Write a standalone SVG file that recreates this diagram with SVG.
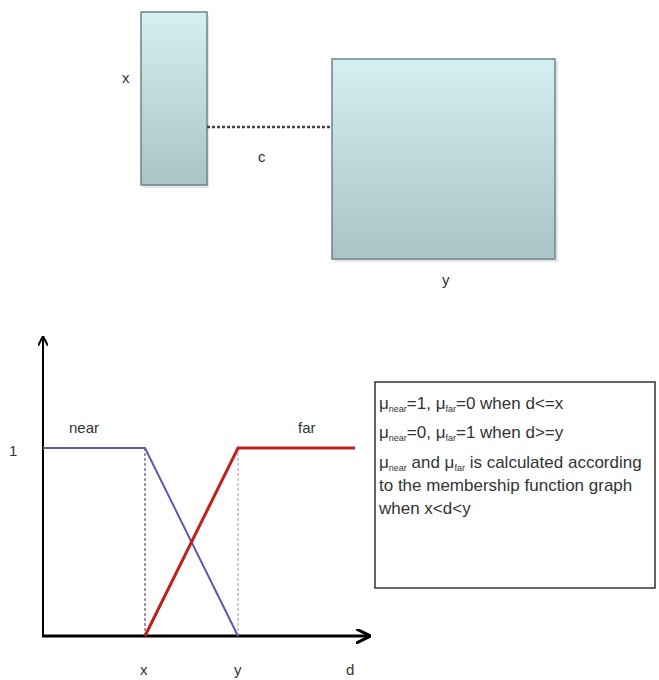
<svg xmlns="http://www.w3.org/2000/svg" width="659" height="680" viewBox="0 0 659 680">
<style>
  .lbl{font-family:"Liberation Sans",Arial,sans-serif;font-size:15px;fill:#333}
  .box{fill:url(#g);stroke:#6f8486;stroke-width:1.5}
  .txt{font-family:"Liberation Sans",Arial,sans-serif;font-size:17px;fill:#333}
  .sub{font-size:9px}
</style>
<defs>
  <linearGradient id="g" x1="0" y1="0" x2="0" y2="1">
    <stop offset="0" stop-color="#d3eff1"/>
    <stop offset="1" stop-color="#a8c4c7"/>
  </linearGradient>
  <marker id="ah" viewBox="0 0 10 10" refX="9" refY="5" markerWidth="5" markerHeight="5" orient="auto-start-reverse" markerUnits="strokeWidth">
    <path d="M0,0 L10,5 L0,10" fill="none" stroke="#000" stroke-width="2"/>
  </marker>
</defs>
<rect width="659" height="680" fill="#fff"/>
<g id="node-x">
  <rect x="143" y="15" width="66" height="173" fill="#ccc" opacity="0.5"/>
  <rect class="box" x="141" y="12" width="66" height="173"/>
  <text class="lbl" x="122" y="83">x</text>
</g>
<g id="node-y">
  <rect x="335" y="61" width="223" height="201" fill="#ccc" opacity="0.5"/>
  <rect class="box" x="332" y="59" width="223" height="200"/>
  <text class="lbl" x="442" y="285">y</text>
</g>
<g id="connectors">
  <line x1="207" y1="127" x2="332" y2="127" stroke="#444" stroke-width="2.5" stroke-dasharray="3,2"/>
  <text class="lbl" x="258" y="162">c</text>
</g>
<g id="graph">
  <line x1="43" y1="636" x2="43" y2="337" stroke="#000" stroke-width="2" marker-end="url(#ah)"/>
  <line x1="42" y1="636" x2="369" y2="636" stroke="#000" stroke-width="3" marker-end="url(#ah)"/>
  <line x1="145" y1="448" x2="145" y2="636" stroke="#333" stroke-width="1" stroke-dasharray="3,2"/>
  <line x1="238" y1="448" x2="238" y2="636" stroke="#999" stroke-width="1" stroke-dasharray="3,2"/>
  <polyline points="43,448 145,448 238,636" fill="none" stroke="#5b5baa" stroke-width="2"/>
  <polyline points="145,636 238,448 355,448" fill="none" stroke="#c0201a" stroke-width="3"/>
  <text class="lbl" x="69" y="433">near</text>
  <text class="lbl" x="298" y="433">far</text>
  <text class="lbl" x="9" y="456">1</text>
  <text class="lbl" x="140" y="675">x</text>
  <text class="lbl" x="234" y="675">y</text>
  <text class="lbl" x="346" y="675">d</text>
</g>
<g id="legend">
  <rect x="375" y="382" width="280" height="206" fill="#fff" stroke="#333" stroke-width="1.5"/>
  <text class="txt" x="379" y="409">μ<tspan class="sub" dy="3">near</tspan><tspan dy="-3">=1, μ</tspan><tspan class="sub" dy="3">far</tspan><tspan dy="-3">=0 when d&lt;=x</tspan></text>
  <text class="txt" x="379" y="438">μ<tspan class="sub" dy="3">near</tspan><tspan dy="-3">=0, μ</tspan><tspan class="sub" dy="3">far</tspan><tspan dy="-3">=1 when d&gt;=y</tspan></text>
  <text class="txt" x="379" y="468">μ<tspan class="sub" dy="3">near</tspan><tspan dy="-3"> and μ</tspan><tspan class="sub" dy="3">far</tspan><tspan dy="-3"> is calculated according</tspan></text>
  <text class="txt" x="379" y="491">to the membership function graph</text>
  <text class="txt" x="379" y="514">when x&lt;d&lt;y</text>
</g>
</svg>
